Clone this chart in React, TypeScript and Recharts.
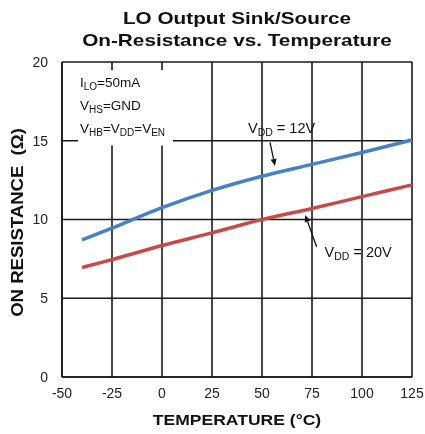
import { CartesianGrid, Line, LineChart, ReferenceArea, ReferenceLine, XAxis, YAxis } from "recharts";

const temps = [-40, -25, 0, 25, 50, 75, 100, 125];
const vdd12 = [8.7, 9.45, 10.75, 11.85, 12.75, 13.5, 14.25, 15.05];
const vdd20 = [6.95, 7.45, 8.35, 9.15, 10.0, 10.7, 11.45, 12.2];
const xTicks = [-50, -25, 0, 25, 50, 75, 100, 125];
const yTicks = [0, 5, 10, 15, 20];

const data = temps.map((t, i) => ({ t, vdd12: vdd12[i], vdd20: vdd20[i] }));

const FONT = "'Liberation Sans', Arial, Helvetica, sans-serif";

// arrow + "VDD = xxV" callout, drawn from the segment's scaled ends
function makeArrow(label: string, dx: number, dy: number) {
  return (p: any) => {
    const { x1, y1, x2, y2 } = p;
    const ang = Math.atan2(y2 - y1, x2 - x1);
    const L = 7, W = 3;
    const bx = x2 - L * Math.cos(ang), by = y2 - L * Math.sin(ang);
    const nx = -Math.sin(ang) * W, ny = Math.cos(ang) * W;
    return (
      <g>
        <line x1={x1} y1={y1} x2={bx} y2={by} stroke="#111" strokeWidth={1.3} />
        <path d={`M${x2},${y2} L${bx + nx},${by + ny} L${bx - nx},${by - ny} Z`} fill="#111" />
        <text x={x1 + dx} y={y1 + dy} fontFamily={FONT} fontSize={14.5} fill="#111">
          <tspan>V</tspan>
          <tspan fontSize={10.5} dy={3}>DD</tspan>
          <tspan dy={-3}>{` = ${label}`}</tspan>
        </text>
      </g>
    );
  };
}

function InfoBox(props: any) {
  const { x, y } = props.viewBox;
  const tx = x + 2;
  return (
    <text fontFamily={FONT} fontSize={13.5} fill="#111">
      <tspan x={tx} y={y + 17}>I</tspan>
      <tspan fontSize={10} dy={3}>LO</tspan>
      <tspan dy={-3}>=50mA</tspan>
      <tspan x={tx} y={y + 40}>V</tspan>
      <tspan fontSize={10} dy={3}>HS</tspan>
      <tspan dy={-3}>=GND</tspan>
      <tspan x={tx} y={y + 63}>V</tspan>
      <tspan fontSize={10} dy={3}>HB</tspan>
      <tspan dy={-3}>=V</tspan>
      <tspan fontSize={10} dy={3}>DD</tspan>
      <tspan dy={-3}>=V</tspan>
      <tspan fontSize={10} dy={3}>EN</tspan>
    </text>
  );
}

function XTitle(props: any) {
  const { x, y, width } = props.viewBox;
  return (
    <text
      transform={`translate(${x + width / 2},${y + 48}) scale(1.17,1)`}
      textAnchor="middle"
      fontFamily={FONT}
      fontWeight="bold"
      fontSize={15}
      fill="#111"
    >
      TEMPERATURE (°C)
    </text>
  );
}

function YTitle(props: any) {
  const { x, y, height } = props.viewBox;
  return (
    <text
      transform={`translate(${x + 17.5},${y + height / 2 + 3}) rotate(-90) scale(1.16,1)`}
      textAnchor="middle"
      dominantBaseline="central"
      fontFamily={FONT}
      fontWeight="bold"
      fontSize={16}
      fill="#111"
    >
      {"ON RESISTANCE\u00a0\u00a0(Ω)"}
    </text>
  );
}

export default function App() {
  const tickStyle = { fontFamily: FONT, fontSize: 14, fill: "#222" };
  return (
    <div style={{ position: "fixed", left: 0, top: 0, width: 425, height: 434, background: "#fff" }}>
      <div
        style={{
          position: "absolute",
          left: 0,
          top: 8,
          width: 474,
          textAlign: "center",
          fontFamily: FONT,
          fontWeight: "bold",
          fontSize: 17,
          lineHeight: "22px",
          color: "#111",
          transform: "scaleX(1.22)",
          transformOrigin: "237px 0",
        }}
      >
        LO Output Sink/Source
        <br />
        On-Resistance vs. Temperature
      </div>
      <LineChart width={425} height={434} data={data} margin={{ top: 62, right: 13, bottom: 0, left: 0 }}>
        <CartesianGrid stroke="#1a1a1a" strokeWidth={1.6} horizontalValues={yTicks} verticalValues={xTicks} />
        <XAxis
          dataKey="t"
          type="number"
          domain={[-50, 125]}
          ticks={xTicks}
          interval={0}
          height={57}
          tickLine={false}
          axisLine={{ stroke: "#1a1a1a", strokeWidth: 1.6 }}
          tick={tickStyle}
          tickMargin={5}
          label={<XTitle />}
        />
        <YAxis
          type="number"
          domain={[0, 20]}
          ticks={yTicks}
          interval={0}
          width={62}
          tickLine={false}
          axisLine={{ stroke: "#1a1a1a", strokeWidth: 1.6 }}
          tick={tickStyle}
          tickMargin={8}
          label={<YTitle />}
        />
        <ReferenceArea x1={-42} x2={5.5} y1={14.7} y2={19.5} fill="#fff" fillOpacity={1} stroke="none" label={<InfoBox />} />
        <Line type="monotone" dataKey="vdd12" stroke="#4680c6" strokeWidth={3.5} dot={false} isAnimationActive={false} />
        <Line type="monotone" dataKey="vdd20" stroke="#c64a4a" strokeWidth={3.5} dot={false} isAnimationActive={false} />
        <ReferenceLine
          segment={[
            { x: 54, y: 14.9 },
            { x: 56.5, y: 13.4 },
          ]}
          shape={makeArrow("12V", -22, -9)}
        />
        <ReferenceLine
          segment={[
            { x: 77.3, y: 8.27 },
            { x: 71.6, y: 10.29 },
          ]}
          shape={makeArrow("20V", 8, 10)}
        />
      </LineChart>
    </div>
  );
}
